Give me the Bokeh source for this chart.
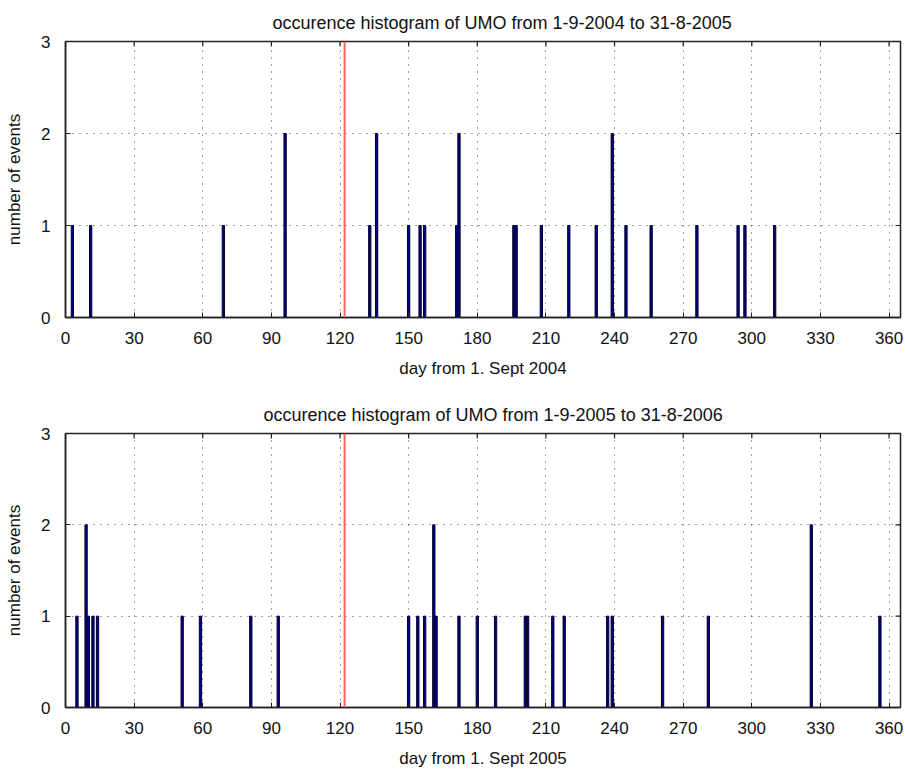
import math

from bokeh.plotting import figure
from bokeh.models import Span, FixedTicker, Range1d, ColumnDataSource
from bokeh.layouts import column
from bokeh.embed import file_html
from bokeh.resources import INLINE

# UMO events per day, season 2004/2005 (day counted from 1 September 2004)
days_2004 = [3, 11, 69, 96, 133, 136, 150, 155, 157, 171, 172, 196, 197,
             208, 220, 232, 239, 245, 256, 276, 294, 297, 310]
counts_2004 = [1, 1, 1, 2, 1, 2, 1, 1, 1, 1, 2, 1, 1,
               1, 1, 1, 2, 1, 1, 1, 1, 1, 1]

# UMO events per day, season 2005/2006 (day counted from 1 September 2005)
days_2005 = [5, 9, 10, 12, 14, 51, 59, 81, 93, 150, 154, 157, 161, 162,
             172, 180, 188, 201, 202, 213, 218, 237, 239, 261, 281, 326, 356]
counts_2005 = [1, 2, 1, 1, 1, 1, 1, 1, 1, 1, 1, 1, 2, 1,
               1, 1, 1, 1, 1, 1, 1, 1, 1, 1, 1, 2, 1]

x_ticks = list(range(0, 361, 30))
y_ticks = [0, 1, 2, 3]
x_max = 365
y_max = 3
new_year_day = 122  # 1 January, counted from 1 September

FONT = "Liberation Sans"
AXIS_COLOR = "#222222"


def make_panel(days, counts, title, xlabel, height, title_offset, border_bottom):
    p = figure(width=905, height=height,
               x_range=Range1d(0, x_max), y_range=Range1d(0, y_max),
               output_backend="svg", toolbar_location=None,
               min_border_left=65, min_border_right=5,
               min_border_top=41, min_border_bottom=border_bottom,
               background_fill_color="white", border_fill_color="white")
    p.outline_line_color = AXIS_COLOR
    p.outline_line_width = 1.5

    p.title.text = title
    p.title.align = "left"
    p.title.offset = title_offset
    p.title.text_font = FONT
    p.title.text_font_size = "18px"
    p.title.text_font_style = "normal"
    p.title.text_color = "#111111"
    p.title.standoff = 18

    for ax in (p.xaxis, p.yaxis):
        ax.axis_line_color = AXIS_COLOR
        ax.axis_line_width = 1.5
        ax.major_tick_line_color = AXIS_COLOR
        ax.major_tick_in = 5
        ax.major_tick_out = 0
        ax.minor_tick_in = 0
        ax.minor_tick_out = 0
        ax.major_label_text_font = FONT
        ax.major_label_text_font_size = "17px"
        ax.major_label_text_color = "#111111"
        ax.axis_label_text_font = FONT
        ax.axis_label_text_font_size = "17px"
        ax.axis_label_text_font_style = "normal"
        ax.axis_label_text_color = "#111111"

    p.xaxis.ticker = FixedTicker(ticks=x_ticks)
    p.yaxis.ticker = FixedTicker(ticks=y_ticks)
    p.xaxis.axis_label = xlabel
    p.yaxis.axis_label = "number of events"
    p.xaxis.major_label_standoff = 14
    p.xaxis.axis_label_standoff = 12
    p.yaxis.major_label_standoff = 15
    p.yaxis.axis_label_standoff = 14

    p.xgrid.ticker = FixedTicker(ticks=x_ticks)
    p.ygrid.ticker = FixedTicker(ticks=y_ticks)
    for g in (p.xgrid, p.ygrid):
        g.grid_line_color = "black"
        g.grid_line_alpha = 0.75
        g.grid_line_dash = "1 6"
        g.grid_line_width = 1

    # mirrored tick marks on the top and right edges of the box
    # (dash markers centred on the edge; the half outside the frame is clipped)
    p.scatter(x=x_ticks, y=[y_max] * len(x_ticks), marker="dash", size=10,
              angle=math.pi / 2, line_color=AXIS_COLOR, line_width=1.2)
    p.scatter(x=[x_max] * len(y_ticks), y=y_ticks, marker="dash", size=10,
              line_color=AXIS_COLOR, line_width=1.2)

    src = ColumnDataSource(dict(day=days, count=counts))
    p.vbar(x="day", top="count", bottom=0, width=1, source=src,
           fill_color="#000080", line_color="#000033", line_width=1)

    p.add_layout(Span(location=new_year_day, dimension="height",
                      line_color="#ff6262", line_width=2))
    return p


top = make_panel(days_2004, counts_2004,
                 "occurence histogram of UMO from 1-9-2004 to 31-8-2005",
                 "day from 1. Sept 2004", 392, 207, 75)
bottom = make_panel(days_2005, counts_2005,
                    "occurence histogram of UMO from 1-9-2005 to 31-8-2006",
                    "day from 1. Sept 2005", 378, 198, 61)

layout = column(top, bottom, spacing=0)

open("out.html", "w").write(file_html(layout, INLINE))
